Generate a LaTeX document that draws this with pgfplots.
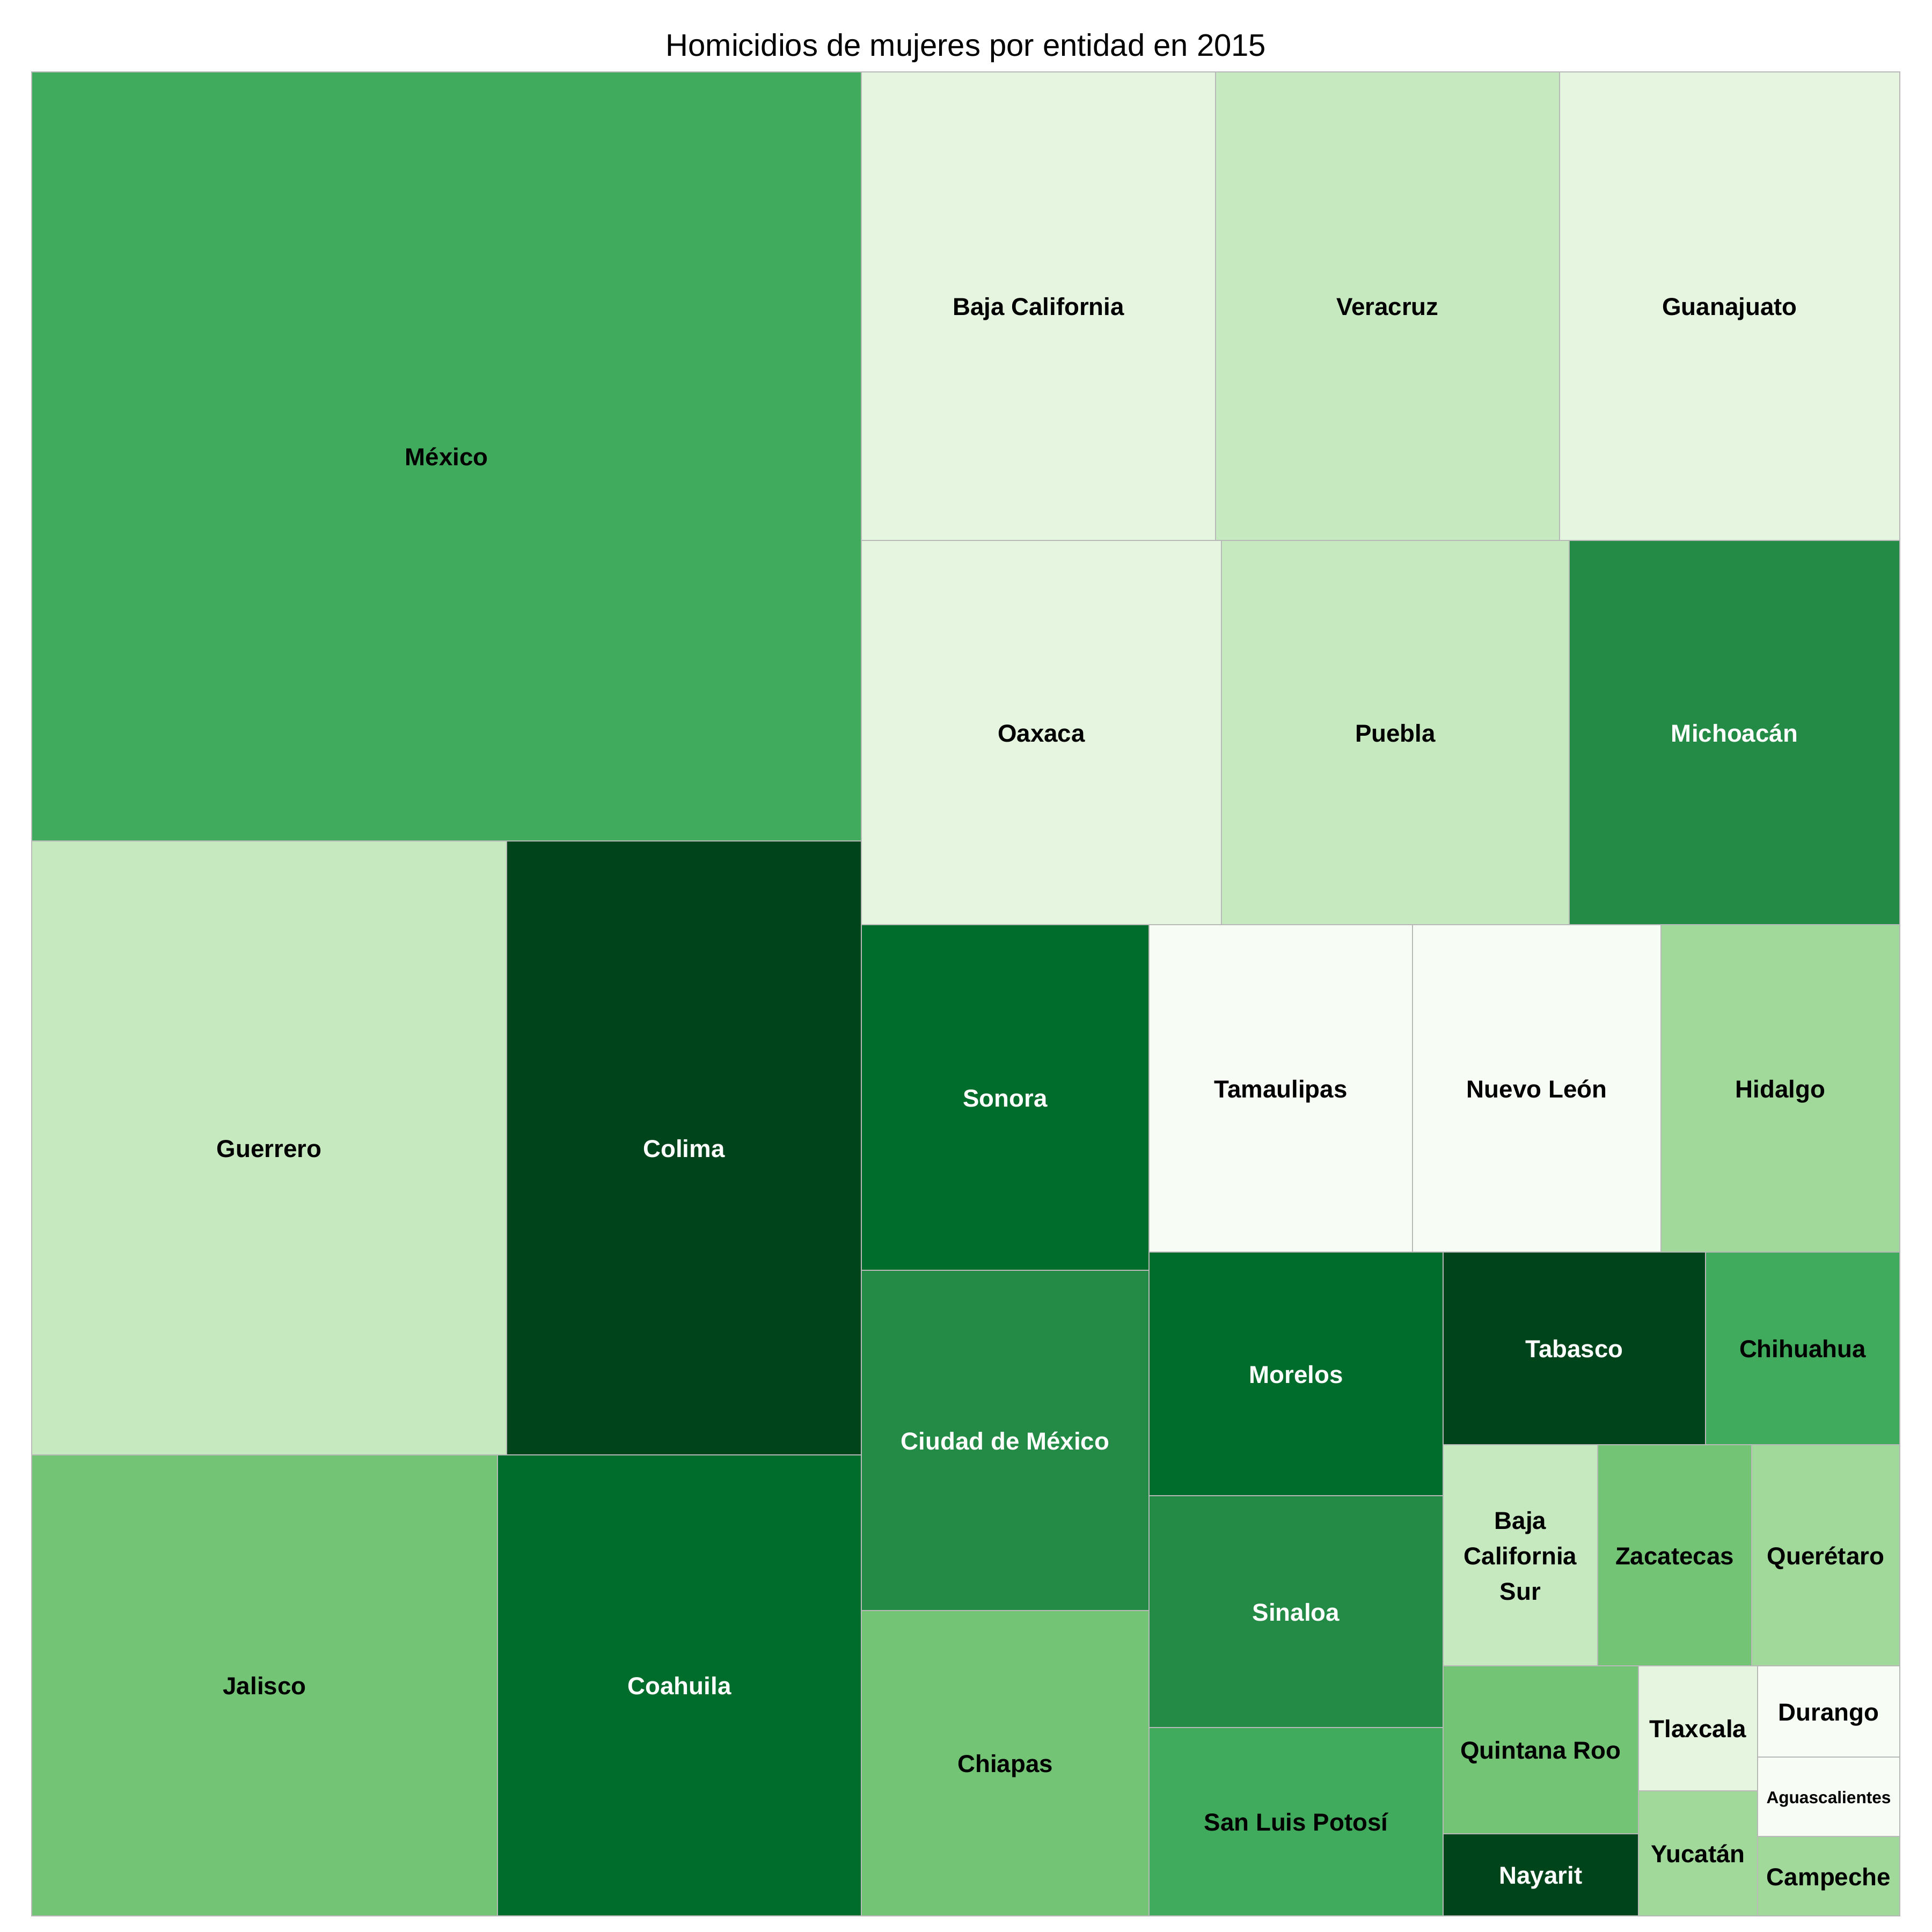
\documentclass[border=0pt]{standalone}
\usepackage{pgfplots}
\pgfplotsset{compat=1.18}
\usepackage{fontspec}
\setmainfont{Liberation Sans}
\definecolor{g1}{HTML}{F7FCF5}
\definecolor{g2}{HTML}{E5F5E0}
\definecolor{g3}{HTML}{C7E9C0}
\definecolor{g4}{HTML}{A1D99B}
\definecolor{g5}{HTML}{74C476}
\definecolor{g6}{HTML}{41AB5D}
\definecolor{g7}{HTML}{238B45}
\definecolor{g8}{HTML}{006D2C}
\definecolor{g9}{HTML}{00441B}
\definecolor{bordc}{HTML}{B8B8B8}
\newcommand{\labfont}{\fontsize{13}{15}\selectfont\bfseries}
\newcommand{\cell}[5]{\addplot[fill=#5,draw=bordc,line width=0.5pt] coordinates {(#1,#3) (#2,#3) (#2,#4) (#1,#4)} -- cycle;}
\newcommand{\lab}[4]{\node[anchor=base,text=#3,font=\labfont,inner sep=0pt] at (axis cs:#1,#2) {#4};}
\begin{document}
\begin{tikzpicture}
\begin{axis}[
  scale only axis, width=36cm, height=36cm,
  xmin=0, xmax=3600, ymin=0, ymax=3600, y dir=reverse,
  hide axis, clip=false]
\addplot[draw=none] coordinates {(0,0) (3600,3600)};
% left block
\cell{59}{1605}{134}{1567}{g6}
\cell{59}{944}{1567}{2711}{g3}
\cell{944}{1605}{1567}{2711}{g9}
\cell{59}{927}{2711}{3570}{g5}
\cell{927}{1605}{2711}{3570}{g8}
% top right rows
\cell{1605}{2265}{134}{1007}{g2}
\cell{2265}{2906}{134}{1007}{g3}
\cell{2906}{3540}{134}{1007}{g2}
\cell{1605}{2276}{1007}{1723}{g2}
\cell{2276}{2924}{1007}{1723}{g3}
\cell{2924}{3540}{1007}{1723}{g7}
% column Sonora
\cell{1605}{2141}{1723}{2367}{g8}
\cell{1605}{2141}{2367}{3001}{g7}
\cell{1605}{2141}{3001}{3570}{g5}
% row Tamaulipas
\cell{2141}{2632}{1723}{2333}{g1}
\cell{2632}{3095}{1723}{2333}{g1}
\cell{3095}{3540}{1723}{2333}{g4}
% column Morelos
\cell{2141}{2689}{2333}{2787}{g8}
\cell{2141}{2689}{2787}{3219}{g7}
\cell{2141}{2689}{3219}{3570}{g6}
% Tabasco row
\cell{2689}{3178}{2333}{2692}{g9}
\cell{3178}{3540}{2333}{2692}{g6}
% BCS row
\cell{2689}{2977}{2692}{3104}{g3}
\cell{2977}{3264}{2692}{3104}{g5}
\cell{3264}{3540}{2692}{3104}{g4}
% small cells
\cell{2689}{3053}{3104}{3417}{g5}
\cell{2689}{3053}{3417}{3570}{g9}
\cell{3053}{3275}{3104}{3337}{g2}
\cell{3053}{3275}{3337}{3570}{g4}
\cell{3275}{3540}{3104}{3274}{g1}
\cell{3275}{3540}{3274}{3422}{g1}
\cell{3275}{3540}{3422}{3570}{g4}
% labels
\lab{832}{867.5}{black}{México}
\lab{501.5}{2156}{black}{Guerrero}
\lab{1274.5}{2156}{white}{Colima}
\lab{493}{3157.5}{black}{Jalisco}
\lab{1266}{3157.5}{white}{Coahuila}
\lab{1935}{587.5}{black}{Baja California}
\lab{2585.5}{587.5}{black}{Veracruz}
\lab{3223}{587.5}{black}{Guanajuato}
\lab{1940.5}{1382}{black}{Oaxaca}
\lab{2600}{1382}{black}{Puebla}
\lab{3232}{1382}{white}{Michoacán}
\lab{1873}{2062}{white}{Sonora}
\lab{1873}{2701}{white}{Ciudad de México}
\lab{1873}{3302.5}{black}{Chiapas}
\lab{2386.5}{2045}{black}{Tamaulipas}
\lab{2863.5}{2045}{black}{Nuevo León}
\lab{3317.5}{2045}{black}{Hidalgo}
\lab{2415}{2577}{white}{Morelos}
\lab{2415}{3020}{white}{Sinaloa}
\lab{2415}{3411.5}{black}{San Luis Potosí}
\lab{2933.5}{2529.5}{white}{Tabasco}
\lab{3359}{2529.5}{black}{Chihuahua}
\lab{2833}{2849}{black}{Baja}
\lab{2833}{2915}{black}{California}
\lab{2833}{2981}{black}{Sur}
\lab{3120.5}{2915}{black}{Zacatecas}
\lab{3402}{2915}{black}{Querétaro}
\lab{2871}{3277.5}{black}{Quintana Roo}
\lab{2871}{3510.5}{white}{Nayarit}
\lab{3164}{3237.5}{black}{Tlaxcala}
\lab{3164}{3470.5}{black}{Yucatán}
\lab{3407.5}{3206}{black}{Durango}
\node[anchor=base,font=\fontsize{9}{11}\selectfont\bfseries,inner sep=0pt] at (axis cs:3407.5,3360) {Aguascalientes};
\lab{3407.5}{3513}{black}{Campeche}
\node[anchor=base,font=\fontsize{16.5}{19}\selectfont,inner sep=0pt] at (axis cs:1800,104) {Homicidios de mujeres por entidad en 2015};
\end{axis}
\end{tikzpicture}
\end{document}
